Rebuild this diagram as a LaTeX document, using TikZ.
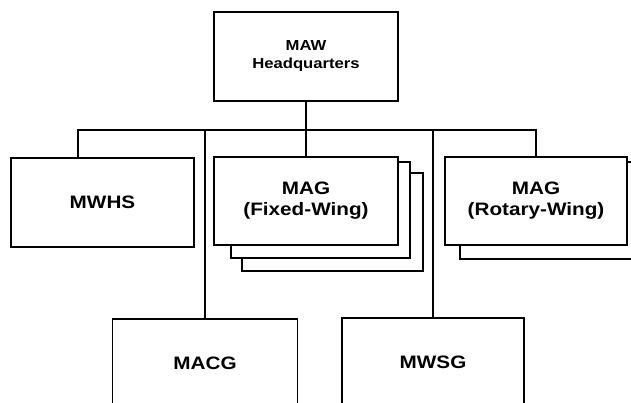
\documentclass[tikz,border=0pt]{standalone}
\usepackage{fontspec}
\setmainfont[FakeStretch=1.15]{Liberation Sans}
\usetikzlibrary{positioning}

\tikzset{
  unit/.style={draw, fill=white, line width=1.1pt, align=center,
    font=\bfseries\fontsize{18}{21}\selectfont, inner sep=0pt},
  stack/.style={draw, fill=white, line width=1.1pt},
  link/.style={line width=1.3pt}
}

\begin{document}
\begin{tikzpicture}[x=1pt, y=-1pt]
        \useasboundingbox (0,0) rectangle (631,403);
        % headquarters
        \node[unit, minimum width=184pt, minimum height=89pt, font=\bfseries\fontsize{14.5}{18}\selectfont] (hq) at (306,56.5) {MAW\\Headquarters};
        % second row, stacked groups drawn back to front
        \draw[stack] (242,173) rectangle (423,271);
        \draw[stack] (231,162) rectangle (410,258);
        \draw[stack] (460,162) rectangle (645,259);
        \node[unit, minimum width=183pt, minimum height=89pt] (mwhs) at (102.5,202.5) {MWHS};
        \node[unit, minimum width=184pt, minimum height=88pt] (magfw) at (306,201) {MAG\\(Fixed-Wing)};
        \node[unit, minimum width=182pt, minimum height=88pt] (magrw) at (536,201) {MAG\\(Rotary-Wing)};
        % third row
        \node[unit, minimum width=185pt, minimum height=89pt] (macg) at (205,363.5) {MACG};
        \node[unit, minimum width=182pt, minimum height=89pt] (mwsg) at (433,362.5) {MWSG};
        % bus
        \coordinate (busL) at (78,130);
        \coordinate (busM) at (hq.south |- busL);
        \draw[link] (hq.south) -- (magfw.north);
        \draw[link] (mwhs.north -| busL) -- (busL) -- (busL -| magrw.north) -- (magrw.north);
        \draw[link] (busL -| macg.north) -- (macg.north);
        \draw[link] (busL -| mwsg.north) -- (mwsg.north);
    \end{tikzpicture}
\end{document}
